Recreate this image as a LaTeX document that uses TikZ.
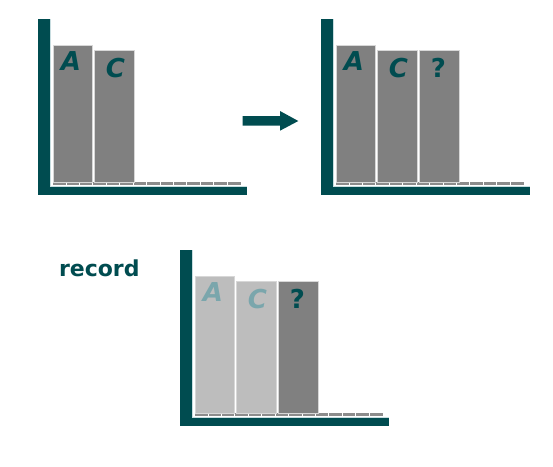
\documentclass[tikz,border=0pt]{standalone}
\usepackage{fontspec}
\setmainfont{DejaVu Sans}
\definecolor{teal}{RGB}{0,76,80}
\definecolor{lightteal}{RGB}{122,166,172}
\definecolor{edge}{RGB}{200,221,224}
\definecolor{bargray}{RGB}{128,128,128}
\definecolor{barlight}{RGB}{189,189,189}
\definecolor{tickgray}{RGB}{140,140,140}
\begin{document}
\begin{tikzpicture}[x=1pt,y=-1pt,
  axis/.style={fill=teal},
  barbox/.style={rectangle, draw={rgb,255:red,215;green,215;blue,215}, line width=0.8pt, fill=bargray, inner sep=0pt, anchor=north west},
  ghost/.style={fill=barlight},
  letter/.style={font=\fontsize{26}{26}\selectfont\bfseries\itshape, text=teal, inner sep=0pt},
  qmark/.style={font=\fontsize{26}{26}\selectfont\bfseries, text=teal, inner sep=0pt},
  faded/.style={text=lightteal},
  tag/.style={font=\fontsize{22}{22}\selectfont\bfseries, text=teal, inner sep=0pt}
]
\useasboundingbox (0,0) rectangle (553,466);
\fill[white] (0,0) rectangle (553,466);

\newcommand{\axes}{%
  \fill[axis] (38,19) rectangle (50,195);
  \fill[axis] (38,186.7) rectangle (246.7,195);
  \draw[edge, line width=0.6pt] (50.3,19) -- (50.3,186.4) -- (246.7,186.4);
  \fill[tickgray] (52.5,182) rectangle (240.5,185.3);
  \foreach \i in {1,...,13} {\draw[white, line width=0.7pt] ({52.5+\i*188/14},182) -- ({52.5+\i*188/14},185.3);}
}

% Panel 1
\begin{scope}
  \axes
  \node[barbox, minimum width=38.7pt, minimum height=136.8pt] (p1a) at (53.3,44.7) {};
  \node[barbox, minimum width=40.3pt, minimum height=131.2pt] (p1c) at (94,50.3) {};
  \node[letter] (p1la) at (71,61) {A};
  \node[letter] (p1lc) at (115.5,68) {C};
\end{scope}

% Panel 2
\begin{scope}[shift={(283,0)}]
  \axes
  \node[barbox, minimum width=38.7pt, minimum height=136.8pt] (p2a) at (53.3,44.7) {};
  \node[barbox, minimum width=40.3pt, minimum height=131.2pt] (p2c) at (94,50.3) {};
  \node[barbox, minimum width=40pt, minimum height=131.2pt] (p2q) at (135.7,50.3) {};
  \node[letter] (p2la) at (71,61) {A};
  \node[letter] (p2lc) at (115.5,68) {C};
  \node[qmark] (p2lq) at (155.5,67.5) {?};
\end{scope}

% Panel 3
\begin{scope}[shift={(142,231)}]
  \axes
  \node[barbox, ghost, minimum width=38.7pt, minimum height=136.8pt] (p3a) at (53.3,44.7) {};
  \node[barbox, ghost, minimum width=40.3pt, minimum height=131.2pt] (p3c) at (94,50.3) {};
  \node[barbox, minimum width=40pt, minimum height=131.2pt] (p3q) at (135.7,50.3) {};
  \node[letter, faded] (p3la) at (71,61) {A};
  \node[letter, faded] (p3lc) at (115.5,68) {C};
  \node[qmark] (p3lq) at (155.5,67.5) {?};
\end{scope}

% block arrow
\fill[teal] (242.7,116) -- (280,116) -- (280,111) -- (298.3,121) -- (280,130.7) -- (280,125.7) -- (242.7,125.7) -- cycle;

% label
\node[tag] (rec) at (99.3,268.3) {record};
\end{tikzpicture}
\end{document}
